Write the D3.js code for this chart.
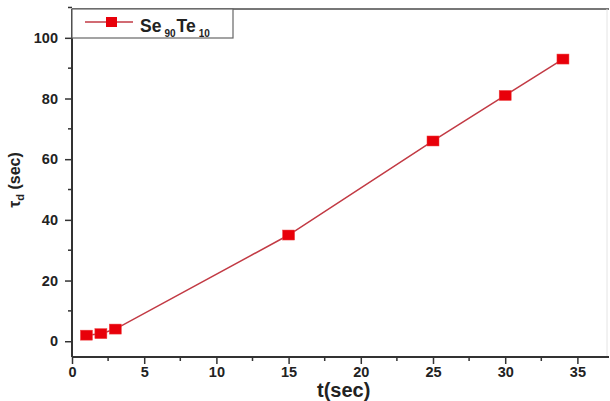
<!DOCTYPE html>
<html><head><meta charset="utf-8">
<script src="https://cdn.jsdelivr.net/npm/d3@7"></script>
<style>body{margin:0;background:#fff}svg{display:block}text{font-family:Arial,"Liberation Sans",sans-serif;font-weight:bold}</style>
</head><body><svg id="c" width="610" height="401"></svg>
<script>
const tValues = [1, 2, 3, 15, 25, 30, 34];
const tauValues = [2, 2.5, 4, 35, 66, 81, 93];
const xTicks = [0, 5, 10, 15, 20, 25, 30, 35];
const yTicks = [0, 20, 40, 60, 80, 100];
const seriesName = ["Se", "90", "Te", "10"];

const svg = d3.select("#c");
const L = 72, R = 607, T = 9, B = 357;
const x = d3.scaleLinear().domain([0, 37.05]).range([L, R]);
const y = d3.scaleLinear().domain([-5.2, 109.5]).range([B, T]);

// frame top & right
svg.append("line").attr("x1", L).attr("x2", R+2).attr("y1", T).attr("y2", T).attr("stroke", "#777").attr("stroke-width", 2);
svg.append("line").attr("x1", R).attr("x2", R).attr("y1", T).attr("y2", B).attr("stroke", "#e4e4e4").attr("stroke-width", 1);

// axes
const xAxis = d3.axisBottom(x).tickValues(xTicks).tickSize(7).tickPadding(3);
const gx = svg.append("g").attr("transform", `translate(0,${B})`).call(xAxis);
const yAxis = d3.axisLeft(y).tickValues(yTicks).tickSize(7).tickPadding(7);
const gy = svg.append("g").attr("transform", `translate(${L},0)`).call(yAxis);
[gx, gy].forEach(g => {
  g.select(".domain").attr("stroke", "#333").attr("stroke-width", 2);
  g.selectAll(".tick line").attr("stroke", "#333").attr("stroke-width", 1.5);
  g.selectAll(".tick text").attr("font-size", 14.5).attr("font-weight", "bold").attr("fill", "#222").attr("font-family", "Arial, Liberation Sans, sans-serif");
});
gx.select(".domain").attr("d", `M${L},0H${R+2}`);
gy.select(".domain").attr("d", `M0,${T}V${B}`);
// minor ticks
const xMinor = xTicks.slice(0, -1).map(v => v + 2.5);
svg.append("g").selectAll("line").data(xMinor).join("line")
  .attr("x1", d => x(d)).attr("x2", d => x(d)).attr("y1", B).attr("y2", B + 4).attr("stroke", "#333").attr("stroke-width", 1.5);
const yMinor = yTicks.map(v => v + 10);
svg.append("g").selectAll("line").data(yMinor).join("line")
  .attr("y1", d => y(d)).attr("y2", d => y(d)).attr("x1", L).attr("x2", L - 4).attr("stroke", "#333").attr("stroke-width", 1.5);

// axis labels
svg.append("text").attr("x", 317).attr("y", 397).attr("font-size", 20).attr("fill", "#222").text("t(sec)");
const yl = svg.append("text").attr("transform", "translate(20,180) rotate(-90)").attr("text-anchor", "middle").attr("font-size", 16).attr("fill", "#222");
yl.append("tspan").text("τ");
yl.append("tspan").attr("font-size", 11).attr("dy", 4).text("d");
yl.append("tspan").attr("dy", -4).text(" (sec)");

// line + markers
const data = tValues.map((t, i) => ({t, v: tauValues[i]}));
svg.append("path").datum(data).attr("fill", "none").attr("stroke", "#c23a44").attr("stroke-width", 1.5)
  .attr("d", d3.line().x(d => x(d.t)).y(d => y(d.v)));
svg.append("g").selectAll("rect").data(data).join("rect")
  .attr("x", d => x(d.t) - 6).attr("y", d => y(d.v) - 5).attr("width", 12).attr("height", 10)
  .attr("fill", "#e8000a").attr("stroke", "#f04040").attr("stroke-width", 0.5);

// legend
svg.append("rect").attr("x", L).attr("y", T).attr("width", 161).attr("height", 29).attr("fill", "#fff").attr("stroke", "#666").attr("stroke-width", 1.2);
svg.append("line").attr("x1", 85).attr("x2", 133).attr("y1", 22).attr("y2", 22).attr("stroke", "#c23a44").attr("stroke-width", 1.5);
svg.append("rect").attr("x", 106).attr("y", 17).attr("width", 11).attr("height", 10).attr("fill", "#e8000a");
const lt = svg.append("text").attr("x", 140).attr("y", 32).attr("font-size", 17.5).attr("fill", "#222");
lt.append("tspan").text(seriesName[0]);
lt.append("tspan").attr("font-size", 10).attr("dx", 3).attr("dy", 5).text(seriesName[1]);
lt.append("tspan").attr("dx", 1).attr("dy", -5).text(seriesName[2]);
lt.append("tspan").attr("font-size", 10).attr("dx", 3).attr("dy", 5).text(seriesName[3]);
</script></body></html>
